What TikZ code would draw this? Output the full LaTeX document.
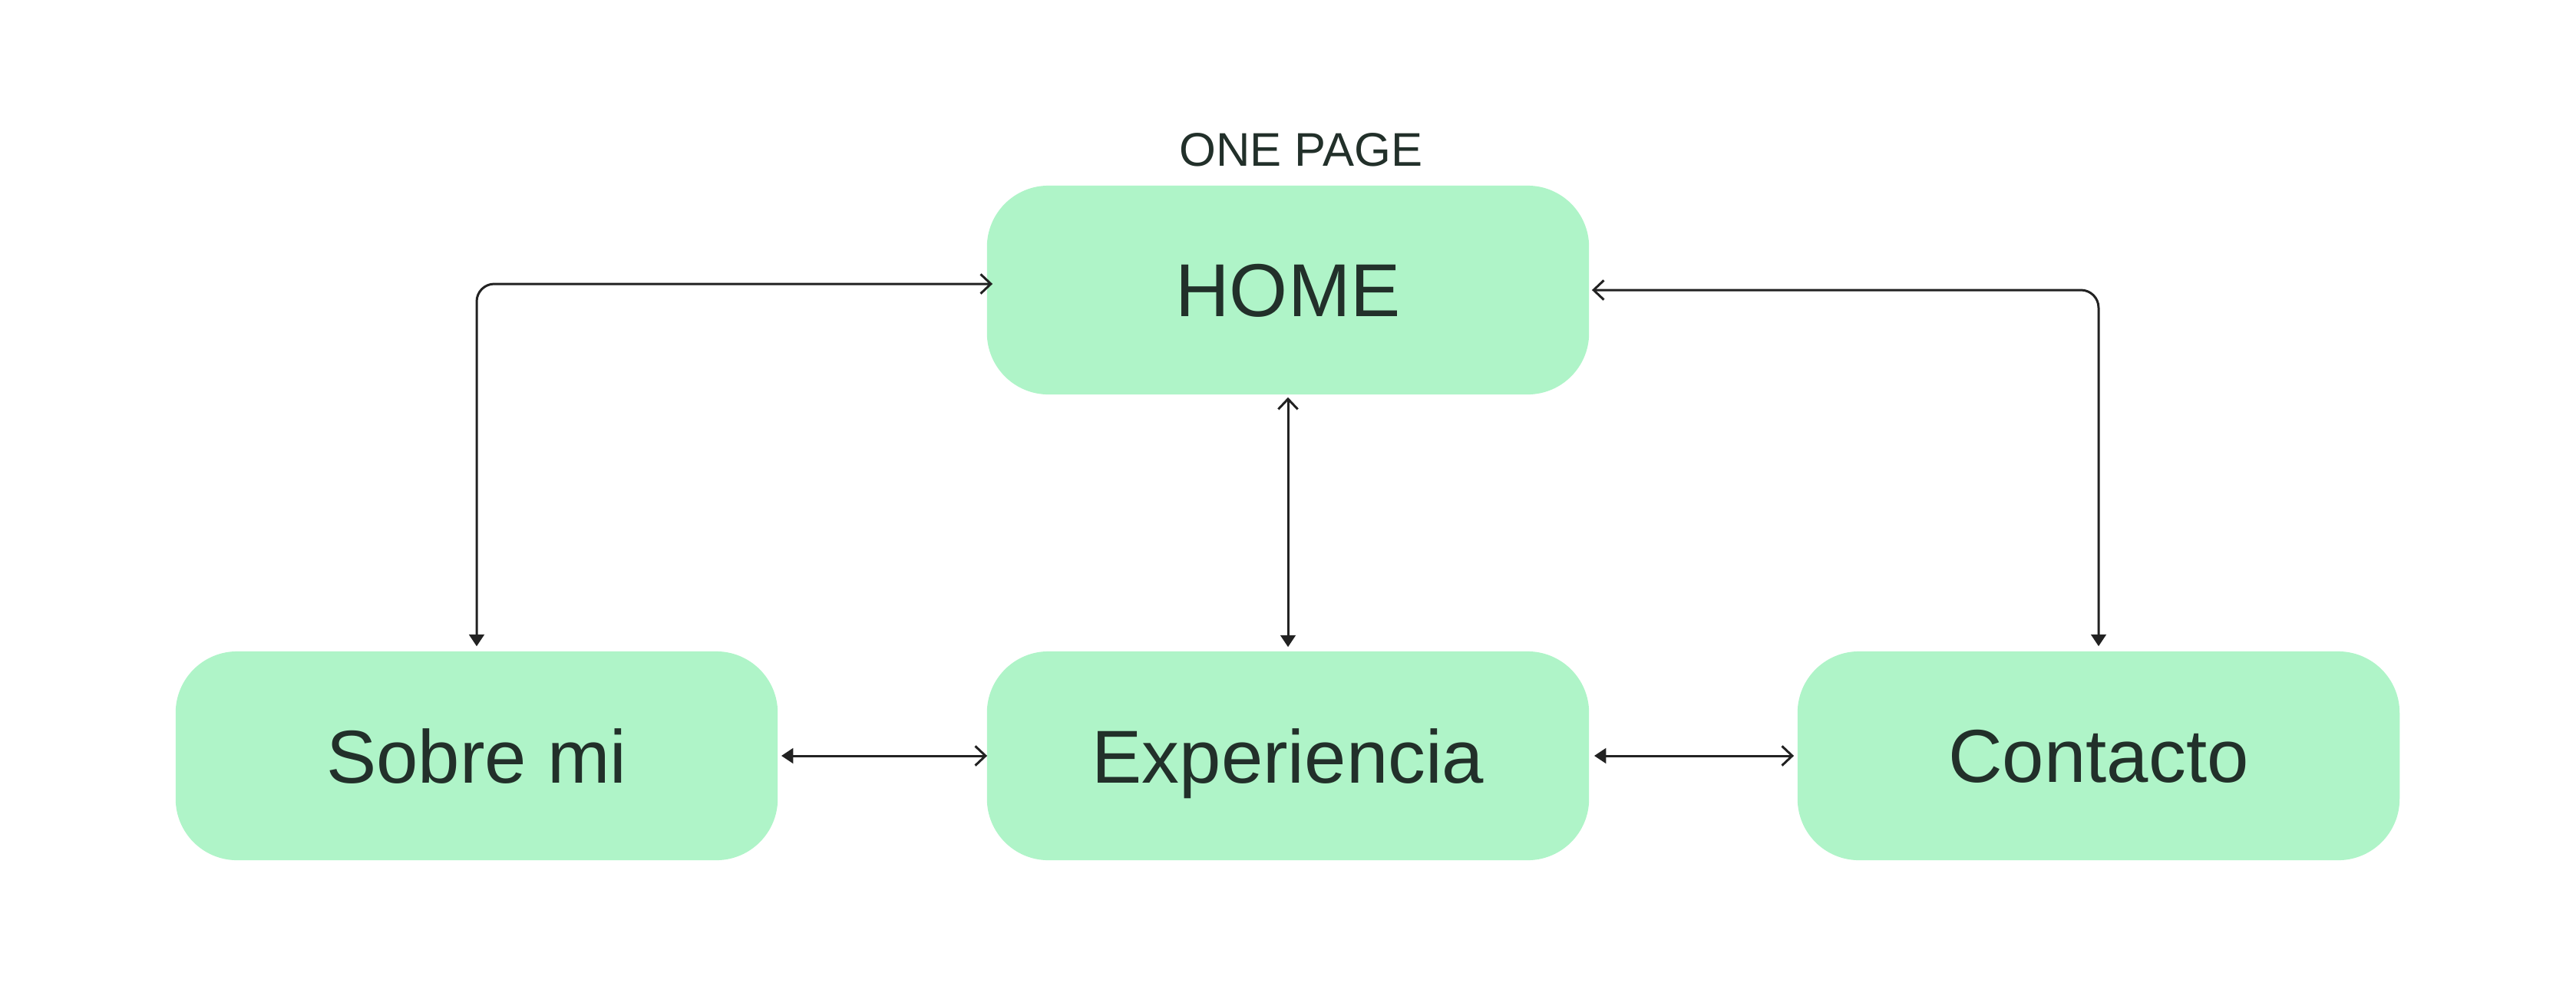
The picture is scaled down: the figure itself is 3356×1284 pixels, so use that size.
\documentclass[tikz,border=0pt]{standalone}
\usepackage{fontspec}
\setmainfont{Liberation Sans}
\usetikzlibrary{arrows.meta,calc}
\definecolor{boxfill}{HTML}{AFF4C8}
\definecolor{txt}{HTML}{22302A}
\definecolor{linec}{HTML}{222222}
\tikzset{
  box/.style={fill=boxfill, rounded corners=0.8cm, minimum width=7.84cm, minimum height=2.72cm, inner sep=0pt, text depth=0pt, text=txt, font=\fontsize{27.8}{33}\selectfont},
  conn/.style={draw=linec, line width=0.85pt, {Straight Barb[length=3.8pt,width=7.2pt]}-{Triangle[length=4.4pt,width=5.6pt]}},
  titlelbl/.style={text=txt, font=\fontsize{17.5}{21}\selectfont, inner sep=0pt}
}
\begin{document}
\begin{tikzpicture}[x=0.01cm,y=-0.01cm]
\useasboundingbox (0,0) rectangle (3356,1284);
\node[titlelbl] (title) at (1695,195) {ONE PAGE};
\node[box] (home) at (1678,378) {HOME};
\node[box] (sobre) at (621,985) {Sobre mi};
\node[box] (exp) at (1678,985) {Experiencia};
\node[box] (cont) at (2734,985) {Contacto};
\draw[conn, rounded corners=0.23cm] ([yshift=0.08cm,xshift=0.08cm]home.west) -| ([yshift=0.06cm]sobre.north);
\draw[conn, rounded corners=0.23cm] ([xshift=0.03cm]home.east) -| ([yshift=0.06cm]cont.north);
\draw[conn] ([yshift=-0.03cm]home.south) -- ([yshift=0.05cm]exp.north);
\draw[conn] ([xshift=0.01cm]exp.west) -- ([xshift=0.04cm]sobre.east);
\draw[conn] ([xshift=-0.04cm]cont.west) -- ([xshift=0.06cm]exp.east);
\end{tikzpicture}
\end{document}
